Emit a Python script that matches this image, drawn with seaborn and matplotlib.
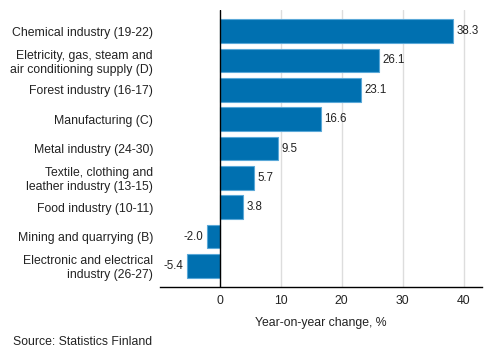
import matplotlib
matplotlib.use("Agg")
import matplotlib.pyplot as plt
import seaborn as sns
import pandas as pd

categories = [
    "Chemical industry (19-22)",
    "Eletricity, gas, steam and\nair conditioning supply (D)",
    "Forest industry (16-17)",
    "Manufacturing (C)",
    "Metal industry (24-30)",
    "Textile, clothing and\nleather industry (13-15)",
    "Food industry (10-11)",
    "Mining and quarrying (B)",
    "Electronic and electrical\nindustry (26-27)",
]
values = [38.3, 26.1, 23.1, 16.6, 9.5, 5.7, 3.8, -2.0, -5.4]
xticks = [0, 10, 20, 30, 40]

sns.set_theme(style="white")
plt.rcParams["font.family"] = ["Liberation Sans", "DejaVu Sans"]

df = pd.DataFrame({"cat": categories, "val": values})

fig = plt.figure(figsize=(4.93, 3.6), dpi=100)
ax = fig.add_axes([160/493, 1-287/360, (482-160)/493, (287-10)/360])

sns.barplot(data=df, x="val", y="cat", orient="h", color="#0070B0",
            width=0.81, edgecolor="#5AA8D8", linewidth=0.8, saturation=1,
            ax=ax, zorder=3)

ax.set_xlim(-9.75, 43.0)
ax.set_ylim(8.72, -0.72)
ax.set_xticks(xticks)
ax.set_xticklabels([str(t) for t in xticks], fontsize=8.8, color="#222222")
ax.tick_params(axis="x", length=0, pad=6)
ax.tick_params(axis="y", length=0, pad=5)
for lbl in ax.get_yticklabels():
    lbl.set_fontsize(8.8)
    lbl.set_color("#222222")
    lbl.set_multialignment("right")
ax.set_ylabel("")
ax.set_xlabel("Year-on-year change, %", fontsize=8.8, color="#222222", labelpad=7)

for t in xticks[1:]:
    ax.axvline(t, color="#DDDDDD", linewidth=1, zorder=1)
ax.axvline(0, color="black", linewidth=1, zorder=4)

for s in ["top", "right", "left"]:
    ax.spines[s].set_visible(False)
ax.spines["bottom"].set_color("black")
ax.spines["bottom"].set_linewidth(1)

for i, v in enumerate(values):
    if v >= 0:
        ax.text(v + 0.6, i, f"{v:.1f}", va="center", ha="left", fontsize=8.3, color="#222222")
    else:
        ax.text(v - 0.6, i, f"{v:.1f}", va="center", ha="right", fontsize=8.3, color="#222222")

fig.text(13/493, 1-342/360, "Source: Statistics Finland", fontsize=8.8, color="#222222",
         ha="left", va="center")

fig.savefig("out.png", dpi=100)
